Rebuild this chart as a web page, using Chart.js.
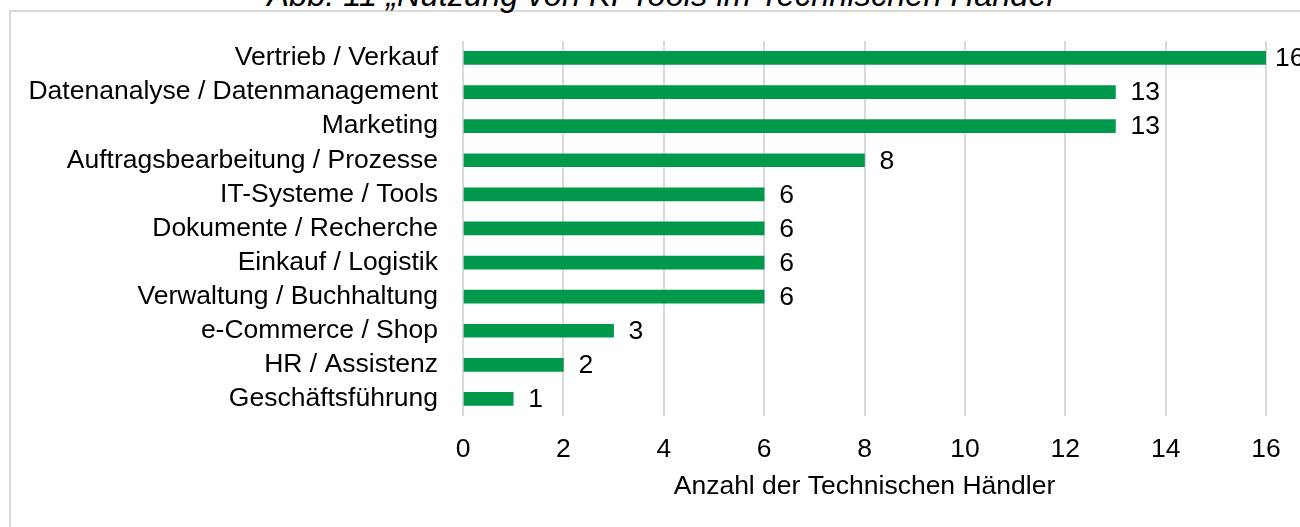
<!DOCTYPE html>
<html>
<head>
<meta charset="utf-8">
<script src="https://cdn.jsdelivr.net/npm/chart.js@4"></script>
<style>
  html, body { margin: 0; padding: 0; overflow: hidden; background: #fff; }
  #wrap { position: relative; width: 1300px; height: 527px; overflow: hidden; }
  #frame { position: absolute; left: 9px; top: 10px; width: 1400px; height: 600px;
           border: 2px solid #d9d9d9; box-sizing: border-box; }
  #title { position: absolute; left: 16px; top: -22px; width: 1300px; text-align: center;
           font: italic 32.6px/33px "Liberation Sans", Arial, sans-serif; color: #000; white-space: nowrap; }
  #usage { position: absolute; left: 0; top: 0; }
</style>
</head>
<body>
<div id="wrap">
  <div id="frame"></div>
  <div id="title">Abb. 11 „Nutzung von KI-Tools im Technischen Handel“</div>
  <canvas id="usage" width="1300" height="527"></canvas>
</div>
<script>
// Categories (top to bottom) and counts
const categories = [
  'Vertrieb / Verkauf',
  'Datenanalyse / Datenmanagement',
  'Marketing',
  'Auftragsbearbeitung / Prozesse',
  'IT-Systeme / Tools',
  'Dokumente / Recherche',
  'Einkauf / Logistik',
  'Verwaltung / Buchhaltung',
  'e-Commerce / Shop',
  'HR / Assistenz',
  'Geschäftsführung'
];
const counts = [16, 13, 13, 8, 6, 6, 6, 6, 3, 2, 1];
const axisTitle = 'Anzahl der Technischen Händler';

const textFont = { family: '"Liberation Sans", Arial, sans-serif', size: 26.5 };
const textColor = '#000';

// Draw the value next to each bar
const valueLabels = {
  id: 'valueLabels',
  afterDatasetsDraw(chart) {
    const ctx = chart.ctx;
    const meta = chart.getDatasetMeta(0);
    ctx.save();
    ctx.font = textFont.size + 'px ' + textFont.family;
    ctx.fillStyle = textColor;
    ctx.textAlign = 'left';
    ctx.textBaseline = 'middle';
    meta.data.forEach((bar, i) => {
      let x = bar.x + 15;
      x = Math.min(x, chart.width - 25);
      ctx.fillText(String(counts[i]), x, bar.y + 1);
    });
    ctx.restore();
  }
};

const data = {
  labels: categories,
  datasets: [{
    data: counts,
    backgroundColor: '#00994c',
    barThickness: 13
  }]
};

const config = {
  type: 'bar',
  data: data,
  options: {
    indexAxis: 'y',
    responsive: false,
    devicePixelRatio: 1,
    animation: false,
    layout: { padding: { top: 38, right: 34, bottom: 0, left: 0 } },
    plugins: {
      legend: { display: false },
      tooltip: { enabled: false }
    },
    scales: {
      x: {
        min: 0,
        max: 16,
        ticks: { stepSize: 2, color: textColor, font: textFont, padding: 18 },
        grid: { color: '#d9d9d9', lineWidth: 2, drawTicks: false },
        border: { display: false },
        title: { display: true, text: axisTitle, color: textColor, font: textFont, padding: { bottom: 24 } },
        afterFit(scale) { scale.height = 111; }
      },
      y: {
        ticks: { color: textColor, font: textFont, padding: 25, autoSkip: false },
        grid: { display: false, drawTicks: false },
        border: { display: false },
        afterFit(scale) { scale.width = 463; }
      }
    }
  },
  plugins: [valueLabels]
};

new Chart(document.getElementById('usage'), config);
</script>
</body>
</html>
